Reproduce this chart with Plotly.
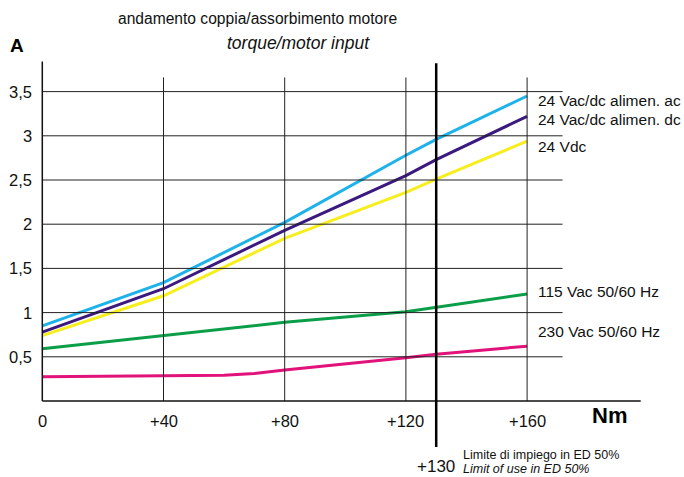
import plotly.graph_objects as go

# ---- data ----
torque = [0, 40, 80, 120, 130, 160]
ac_24 = [0.85, 1.34, 2.02, 2.78, 2.96, 3.45]
dc_24 = [0.78, 1.27, 1.93, 2.55, 2.73, 3.22]
vdc_24 = [0.74, 1.19, 1.84, 2.36, 2.51, 2.94]
vac_115 = [0.59, 0.74, 0.89, 1.01, 1.06, 1.21]
torque_230 = [0, 40, 60, 70, 80, 120, 130, 160]
vac_230 = [0.275, 0.28, 0.29, 0.31, 0.35, 0.49, 0.53, 0.62]

x_ticks = [0, 40, 80, 120, 160]
x_tick_labels = ["0", "+40", "+80", "+120", "+160"]
y_ticks = [0.5, 1, 1.5, 2, 2.5, 3, 3.5]
y_tick_labels = ["0,5", "1", "1,5", "2", "2,5", "3", "3,5"]
limit_x = 130

series = [
    ("115 Vac 50/60 Hz", torque, vac_115, "#0a9e48"),
    ("230 Vac 50/60 Hz", torque_230, vac_230, "#e2127b"),
    ("24 Vdc", torque, vdc_24, "#f7ee1e"),
    ("24 Vac/dc alimen. dc", torque, dc_24, "#3b1a80"),
    ("24 Vac/dc alimen. ac", torque, ac_24, "#1db2ea"),
]
label_pos = {
    "24 Vac/dc alimen. ac": 3.40,
    "24 Vac/dc alimen. dc": 3.19,
    "24 Vdc": 2.88,
    "115 Vac 50/60 Hz": 1.235,
    "230 Vac 50/60 Hz": 0.79,
}

W, H = 684, 477
X0PX, XSCALE = 42.3, 3.03
Y0PX, YSCALE = 401.0, 88.4
xr = [-X0PX / XSCALE, (W - X0PX) / XSCALE]
yr = [-(H - Y0PX) / YSCALE, Y0PX / YSCALE]

FONT = "Liberation Sans, Arial, sans-serif"

fig = go.Figure()
shapes = []
ann = []

# horizontal gridlines
for yv in y_ticks:
    shapes.append(dict(type="line", xref="x", yref="y", x0=0, x1=171.7, y0=yv, y1=yv,
                       line=dict(color="#222", width=1)))
# vertical gridlines
for xv in x_ticks[1:]:
    shapes.append(dict(type="line", xref="x", yref="y", x0=xv, x1=xv, y0=0, y1=3.66,
                       line=dict(color="#222", width=1)))
# axes
shapes.append(dict(type="line", xref="x", yref="y", x0=0, x1=0, y0=0, y1=3.84,
                   line=dict(color="#111", width=1.5)))
shapes.append(dict(type="line", xref="x", yref="y", x0=0, x1=197.5, y0=0, y1=0,
                   line=dict(color="#111", width=1.5)))
# limit line
shapes.append(dict(type="line", xref="x", yref="y", x0=limit_x, x1=limit_x, y0=-0.52, y1=3.82,
                   line=dict(color="#000", width=2.5)))

for name, xs, ys, col in series:
    fig.add_trace(go.Scatter(x=xs, y=ys, mode="lines", name=name,
                             line=dict(color=col, width=3), hoverinfo="skip"))
    ann.append(dict(x=163.0, y=label_pos[name], xref="x", yref="y", text=name,
                    showarrow=False, xanchor="left", yanchor="middle",
                    font=dict(family=FONT, size=15.5, color="#111")))

for xv, lab in zip(x_ticks, x_tick_labels):
    ann.append(dict(x=xv, y=-0.23, xref="x", yref="y", text=lab, showarrow=False,
                    xanchor="center", yanchor="middle",
                    font=dict(family=FONT, size=16.5, color="#111")))
for yv, lab in zip(y_ticks, y_tick_labels):
    ann.append(dict(x=-2.6, y=yv, xref="x", yref="y", text=lab, showarrow=False,
                    xanchor="right", yanchor="middle",
                    font=dict(family=FONT, size=16.5, color="#111")))

ann.append(dict(x=limit_x, y=-0.74, xref="x", yref="y", text="+130", showarrow=False,
                xanchor="center", yanchor="middle",
                font=dict(family=FONT, size=17, color="#111")))
ann.append(dict(x=138.6, y=-0.611, xref="x", yref="y", text="Limite di impiego in ED 50%",
                showarrow=False, xanchor="left", yanchor="middle", borderpad=0,
                font=dict(family=FONT, size=12.5, color="#111")))
ann.append(dict(x=138.6, y=-0.772, xref="x", yref="y", text="<i>Limit of use in ED 50%</i>",
                showarrow=False, xanchor="left", yanchor="middle", borderpad=0,
                font=dict(family=FONT, size=12.5, color="#111")))

ann.append(dict(x=187.2, y=-0.166, xref="x", yref="y", text="<b>Nm</b>", showarrow=False,
                xanchor="center", yanchor="middle",
                font=dict(family=FONT, size=22, color="#000")))
ann.append(dict(x=-8.2, y=4.016, xref="x", yref="y", text="<b>A</b>", showarrow=False,
                xanchor="center", yanchor="middle",
                font=dict(family=FONT, size=19, color="#000")))

ann.append(dict(x=71.1, y=4.33, xref="x", yref="y", text="andamento coppia/assorbimento motore",
                showarrow=False, xanchor="center", yanchor="middle",
                font=dict(family=FONT, size=15.6, color="#111")))
ann.append(dict(x=84.5, y=4.05, xref="x", yref="y", text="<i>torque/motor input</i>",
                showarrow=False, xanchor="center", yanchor="middle",
                font=dict(family=FONT, size=17.5, color="#111")))

fig.update_layout(
    width=W, height=H,
    margin=dict(l=0, r=0, t=0, b=0),
    paper_bgcolor="white", plot_bgcolor="white",
    showlegend=False,
    shapes=shapes, annotations=ann,
    xaxis=dict(range=xr, visible=False, fixedrange=True),
    yaxis=dict(range=yr, visible=False, fixedrange=True),
)

fig.write_html("out.html", config={"displayModeBar": False},
               post_script="document.body.style.margin='0px';document.body.style.overflow='hidden';")
